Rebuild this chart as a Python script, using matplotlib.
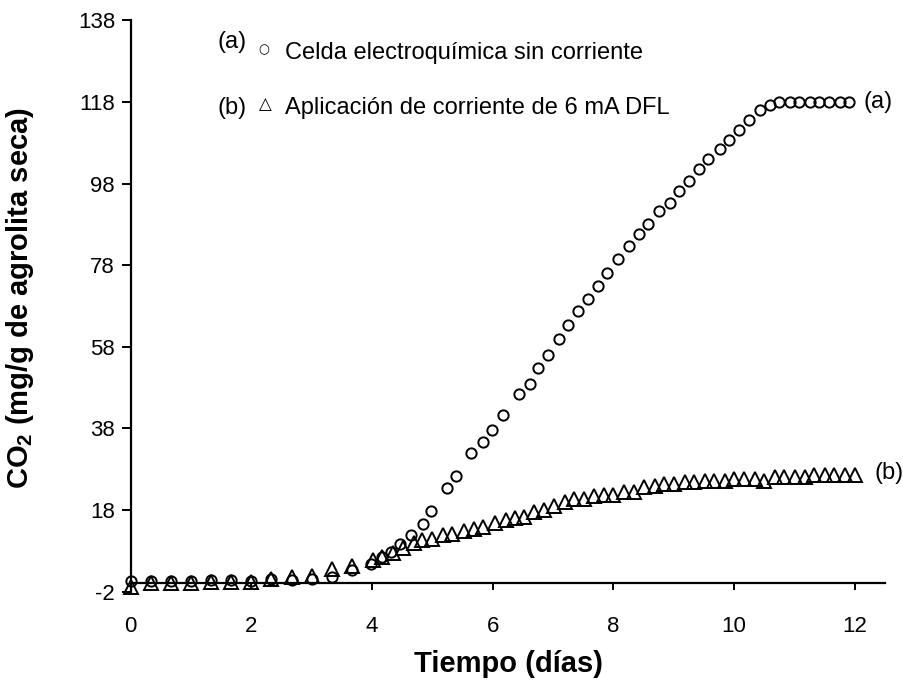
import numpy as np
import matplotlib.pyplot as plt

plt.rcParams['font.family'] = ['Liberation Sans', 'DejaVu Sans']
plt.rcParams['mathtext.fontset'] = 'custom'
plt.rcParams['mathtext.rm'] = 'Liberation Sans'
plt.rcParams['mathtext.bf'] = 'Liberation Sans:bold'
plt.rcParams['axes.unicode_minus'] = False

# serie (a): celda electroquimica sin corriente
dias_a = [0, 0.33, 0.67, 1.0, 1.33, 1.67, 2.0, 2.33, 2.67, 3.0, 3.33, 3.67,
          3.98, 4.16, 4.31, 4.47, 4.64, 4.84, 4.98, 5.24, 5.39, 5.64, 5.83, 5.99,
          6.17, 6.44, 6.61, 6.75, 6.91, 7.09, 7.25, 7.42, 7.57, 7.74, 7.89,
          8.07, 8.26, 8.43, 8.57, 8.76, 8.93, 9.09, 9.25, 9.41, 9.57, 9.76, 9.92,
          10.08, 10.25, 10.42, 10.59, 10.75, 10.92, 11.08, 11.25, 11.41, 11.58,
          11.75, 11.9]
co2_a = [0.6, 0.7, 0.6, 0.6, 0.8, 0.8, 0.7, 1.0, 0.8, 1.0, 1.6, 3.3,
         4.8, 6.5, 7.7, 9.6, 11.8, 14.5, 17.7, 23.4, 26.3, 32.0, 34.7, 37.6,
         41.3, 46.5, 49.0, 52.8, 56.1, 59.8, 63.3, 66.8, 69.8, 72.9, 76.1,
         79.5, 82.8, 85.6, 88.0, 91.3, 93.3, 96.2, 98.6, 101.5, 104.1, 106.5, 108.8,
         111.1, 113.5, 116.0, 117.3, 117.9, 118.1, 118.1, 118.1, 118.1, 118.1,
         118.1, 118.1]

# serie (b): aplicacion de corriente de 6 mA
dias_b = [0, 0.33, 0.67, 1.0, 1.33, 1.67, 2.0, 2.33, 2.67, 3.0, 3.33, 3.67,
          4.01, 4.17, 4.34, 4.52, 4.69, 4.83, 5.0, 5.17, 5.33, 5.53, 5.69, 5.83,
          6.03, 6.22, 6.36, 6.51, 6.68, 6.85, 7.02, 7.19, 7.34, 7.51, 7.68, 7.85,
          8.0, 8.17, 8.34, 8.51, 8.68, 8.84, 9.01, 9.19, 9.34, 9.51, 9.67, 9.84,
          10.0, 10.17, 10.34, 10.5, 10.67, 10.83, 11.0, 11.17, 11.33, 11.5, 11.66,
          11.83, 12.0]
co2_b = [-0.8, 0.2, 0.2, 0.2, 0.4, 0.4, 0.4, 1.0, 1.5, 1.8, 3.5, 4.3,
         5.7, 6.5, 7.5, 8.6, 9.8, 10.6, 11.0, 11.8, 12.2, 12.9, 13.4, 13.8,
         14.7, 15.5, 16.0, 16.2, 17.4, 17.9, 19.0, 20.0, 20.8, 20.8, 21.4, 21.8,
         21.8, 22.4, 22.4, 23.6, 23.9, 24.4, 24.4, 24.8, 24.8, 25.2, 25.2, 25.2,
         25.6, 25.6, 25.6, 25.2, 26.1, 26.1, 26.1, 26.1, 26.5, 26.5, 26.5,
         26.5, 26.5]

xticks = [0, 2, 4, 6, 8, 10, 12]
yticks = [-2, 18, 38, 58, 78, 98, 118, 138]

fig = plt.figure(figsize=(9.04, 6.85), dpi=100)
ax = fig.add_axes([0.1446, 0.1363, 0.8344, 0.8339])

ax.plot(dias_a, co2_a, 'o', ms=7.4, mfc='none', mec='black', mew=1.4, clip_on=False)
ax.plot(dias_b, co2_b, '^', ms=9.5, mfc='none', mec='black', mew=1.4, clip_on=False)

ax.set_xlim(0, 12.5)
ax.set_ylim(-2, 138)
ax.set_xticks(xticks)
ax.set_yticks(yticks)

for s in ['top', 'right']:
    ax.spines[s].set_visible(False)
ax.spines['bottom'].set_position(('data', 0))
ax.spines['bottom'].set_linewidth(1.6)
ax.spines['left'].set_linewidth(1.6)

ax.tick_params(axis='x', direction='out', length=5, width=1.4, pad=18.5, labelsize=16)
ax.tick_params(axis='y', direction='out', length=6.5, width=1.4, pad=4.8, labelsize=16)

# leyenda
ax.text(1.43, 131.2, '(a)', fontsize=17, va='baseline')
ax.text(2.2, 130.7, '\u25cb', fontsize=9, ha='center', va='center', family=['DejaVu Sans'])
ax.text(2.56, 128.6, 'Celda electroquímica sin corriente', fontsize=17, va='baseline')
ax.text(1.43, 115.0, '(b)', fontsize=17, va='baseline')
ax.text(2.23, 117.4, '\u25b3', fontsize=12, ha='center', va='center', family=['DejaVu Sans'])
ax.text(2.56, 115.0, 'Aplicación de corriente de 6 mA DFL', fontsize=17, va='baseline')

# etiquetas de las curvas
ax.text(12.15, 118, '(a)', fontsize=17, va='center', clip_on=False)
ax.text(12.33, 27, '(b)', fontsize=17, va='center', clip_on=False)

fig.text(509 / 904, 1 - 664 / 685, 'Tiempo (días)', ha='center', va='center',
         fontsize=21, weight='bold')
fig.text(20 / 904, 1 - 298 / 685, r'CO$_\mathbf{2}$ (mg/g de agrolita seca)',
         ha='center', va='center', rotation=90, fontsize=21, weight='bold')

fig.savefig('out.png', dpi=100)
